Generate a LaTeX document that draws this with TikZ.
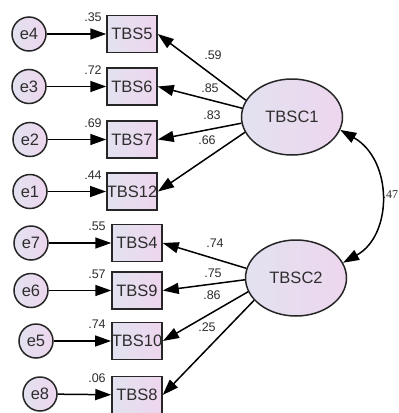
\documentclass[tikz,border=0pt]{standalone}
\usepackage{fontspec}
\setmainfont{Liberation Sans}
\newfontfamily\serifnum{Liberation Serif}
\usetikzlibrary{arrows.meta,shapes.geometric}
\definecolor{fillL}{HTML}{E2E2F0}
\definecolor{fillR}{HTML}{EED6EE}
\definecolor{txt}{HTML}{2E2E2E}
\tikzset{
  obsbox/.style={draw=black!85, line width=1.5pt, rectangle, minimum width=50pt, minimum height=37pt,
    inner sep=0pt, left color=fillL, right color=fillR, text=txt, font=\fontsize{16.5}{16.5}\selectfont},
  errc/.style={draw=black!85, line width=1.5pt, circle, minimum size=34pt, inner sep=0pt,
    left color=fillL, right color=fillR, text=txt, font=\fontsize{16.5}{16.5}\selectfont},
  latent/.style={draw=black!85, line width=1.5pt, ellipse, minimum width=101pt, minimum height=76pt,
    inner sep=0pt, left color=fillL, right color=fillR, text=txt, font=\fontsize{16.5}{16.5}\selectfont},
  arr/.style={line width=1.5pt, -{Triangle[length=16pt,width=11pt]}},
  darr/.style={line width=1.5pt, {Triangle[length=16pt,width=11pt]}-{Triangle[length=16pt,width=11pt]}},
  lab/.style={text=txt, font=\fontsize{12.5}{12.5}\selectfont, inner sep=0pt}
}
\begin{document}
\begin{tikzpicture}[x=1pt,y=-1pt]
\useasboundingbox (0,0) rectangle (399,413);
\fill[white] (0,0) rectangle (399,413);
% latent variables
\node[latent] (C1) at (292,117) {TBSC1};
\node[latent] (C2) at (296,278) {TBSC2};
% observed boxes
\node[obsbox] (B5) at (132,34) {TBS5};
\node[obsbox] (B6) at (132,86.5) {TBS6};
\node[obsbox] (B7) at (132,139.5) {TBS7};
\node[obsbox] (B12) at (132,191.5) {TBS12};
\node[obsbox] (B4) at (137,243) {TBS4};
\node[obsbox] (B9) at (137,290.5) {TBS9};
\node[obsbox] (B10) at (137,341) {TBS10};
\node[obsbox] (B8) at (137,395) {TBS8};
% error circles
\node[errc] (e4) at (29,34) {e4};
\node[errc] (e3) at (29,86.5) {e3};
\node[errc] (e2) at (30,139.5) {e2};
\node[errc] (e1) at (30,191.5) {e1};
\node[errc] (e7) at (31,243) {e7};
\node[errc] (e6) at (31,290.5) {e6};
\node[errc] (e5) at (36,341) {e5};
\node[errc] (e8) at (40,394) {e8};
% error arrows
\draw[arr] (e4) -- (B5);
\draw[arr] (e3) -- (B6);
\draw[arr] (e2) -- (B7);
\draw[arr] (e1) -- (B12);
\draw[arr] (e7) -- (B4);
\draw[arr] (e6) -- (B9);
\draw[arr] (e5) -- (B10);
\draw[arr] (e8) -- (B8);
% loadings
\draw[arr] (C1.160) -- (B5.east);
\draw[arr] (C1.170) -- (B6.east);
\draw[arr] (C1.187) -- (B7.east);
\draw[arr] (C1.198) -- (B12.east);
\draw[arr] (C2.169) -- (B4.east);
\draw[arr] (C2.182) -- (B9.east);
\draw[arr] (C2.196) -- (B10.east);
\draw[arr] (C2.208) -- (B8.east);
% covariance
\draw[darr] (C1.345) .. controls (393,160) and (393,235) .. (C2.18);
% squared multiple correlations
\node[lab] (r5) at (93,17.5) {.35};
\node[lab] (r6) at (93,70) {.72};
\node[lab] (r7) at (93,123) {.69};
\node[lab] (r12) at (93,175) {.44};
\node[lab] (r4) at (97,226.5) {.55};
\node[lab] (r9) at (97,274) {.57};
\node[lab] (r10) at (97,324.5) {.74};
\node[lab] (r8) at (97,378.5) {.06};
% loading labels
\node[lab] (l5) at (213,55) {.59};
\node[lab] (l6) at (210,88) {.85};
\node[lab] (l7) at (212,115) {.83};
\node[lab] (l12) at (207,140) {.66};
\node[lab] (l4) at (215,243) {.74};
\node[lab] (l9) at (213,273) {.75};
\node[lab] (l10) at (212,295) {.86};
\node[lab] (l8) at (207,327) {.25};
\node[lab, anchor=west, font=\serifnum\fontsize{12}{12}\selectfont] (cov) at (383,195) {.47};
\end{tikzpicture}
\end{document}
